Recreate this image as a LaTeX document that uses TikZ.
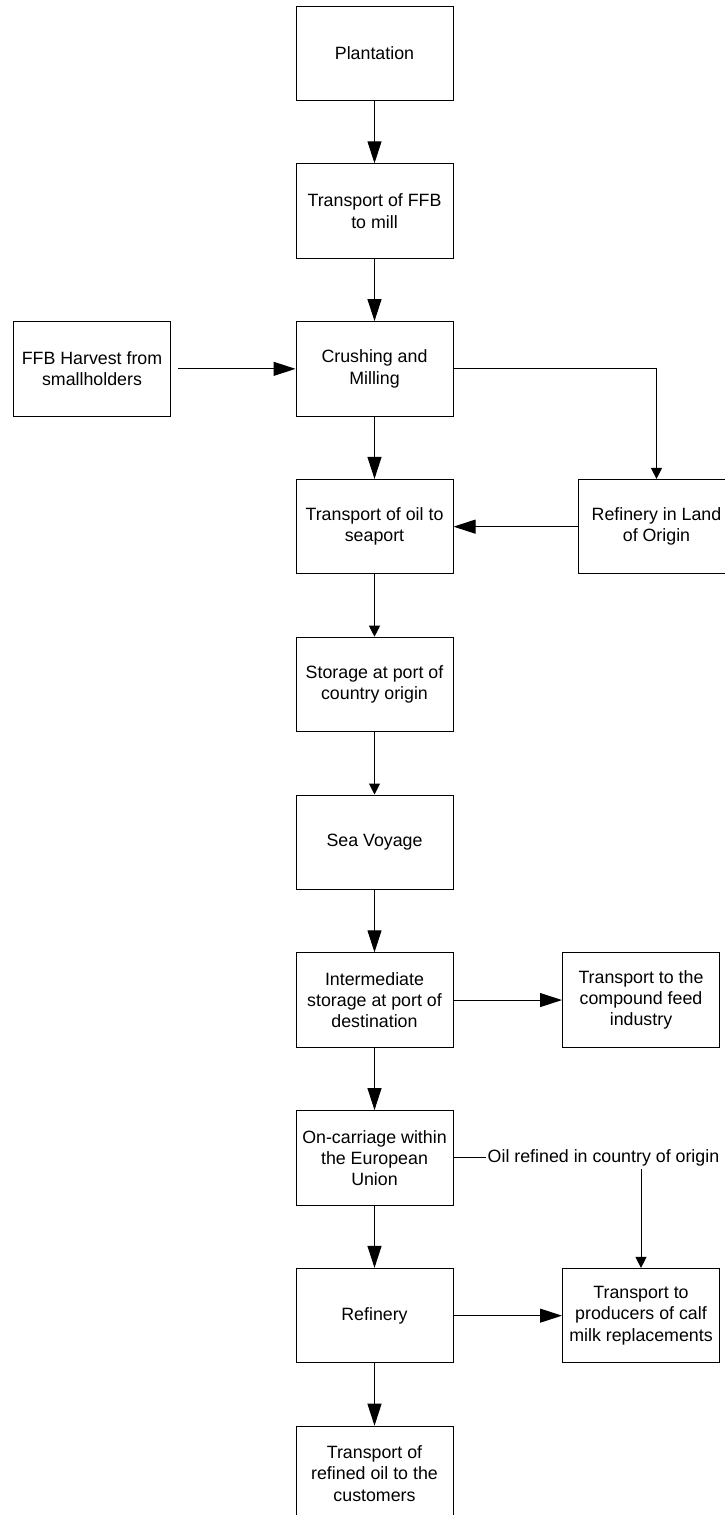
\documentclass[tikz,border=0pt]{standalone}
\usepackage{fontspec}
\setmainfont{Liberation Sans}
\usetikzlibrary{arrows.meta}
\tikzset{
  boxnode/.style={draw=black, line width=1pt, minimum width=157pt, minimum height=94.5pt,
    inner sep=2pt, align=center, font=\fontsize{17.8}{21.2}\selectfont},
  bigarrow/.style={draw=black, line width=1pt, -{Triangle[length=22pt,width=14pt]}},
  smallarrow/.style={draw=black, line width=1pt, -{Triangle[length=11pt,width=11pt]}},
  plainline/.style={draw=black, line width=1pt},
  lbl/.style={inner sep=1.5pt, font=\fontsize{17.8}{21.2}\selectfont}
}
\begin{document}
\begin{tikzpicture}[x=1pt,y=-1pt]
\useasboundingbox (0,0) rectangle (725,1515);
\begin{scope}
\clip (0,0) rectangle (725,1515);
% main column
\node[boxnode] (plant) at (374.5,53.25) {Plantation};
\node[boxnode] (tffb) at (374.5,211.05) {Transport of FFB\\to mill};
\node[boxnode] (crush) at (374.5,368.85) {Crushing and\\Milling};
\node[boxnode] (toil) at (374.5,526.65) {Transport of oil to\\seaport};
\node[boxnode] (store) at (374.5,684.45) {Storage at port of\\country origin};
\node[boxnode] (sea) at (374.5,842.25) {Sea Voyage};
\node[boxnode] (inter) at (374.5,1000.05) {Intermediate\\storage at port of\\destination};
\node[boxnode] (carr) at (374.5,1157.85) {On-carriage within\\the European\\Union};
\node[boxnode] (refin) at (374.5,1315.65) {Refinery};
\node[boxnode] (cust) at (374.5,1473.45) {Transport of\\refined oil to the\\customers};
% side boxes
\node[boxnode] (harv) at (92,368.85) {FFB Harvest from\\smallholders};
\node[boxnode] (landref) at (656.5,526.65) {Refinery in Land\\of Origin};
\node[boxnode] (feed) at (641,1000.05) {Transport to the\\compound feed\\industry};
\node[boxnode] (calf) at (641,1315.65) {Transport to\\producers of calf\\milk replacements};
% label
\node[lbl, anchor=west] (oilref) at (486,1157.85) {Oil refined in country of origin};
\coordinate (harvout) at (178,368.85);
% connectors
\draw[bigarrow] (plant) -- (tffb);
\draw[bigarrow] (tffb) -- (crush);
\draw[bigarrow] (harvout) -- (crush.west);
\draw[bigarrow] (crush) -- (toil);
\draw[smallarrow] (crush.east) -| (landref.north);
\draw[bigarrow] (landref.west) -- (toil.east);
\draw[smallarrow] (toil) -- (store);
\draw[smallarrow] (store) -- (sea);
\draw[bigarrow] (sea) -- (inter);
\draw[bigarrow] (inter.east) -- (feed.west);
\draw[bigarrow] (inter) -- (carr);
\draw[plainline] (carr.east) -- (oilref.west);
\draw[smallarrow] ([yshift=-1.5pt]oilref.south -| calf.north) -- (calf.north);
\draw[bigarrow] (carr) -- (refin);
\draw[bigarrow] (refin.east) -- (calf.west);
\draw[bigarrow] (refin) -- (cust);
\end{scope}
\end{tikzpicture}
\end{document}
